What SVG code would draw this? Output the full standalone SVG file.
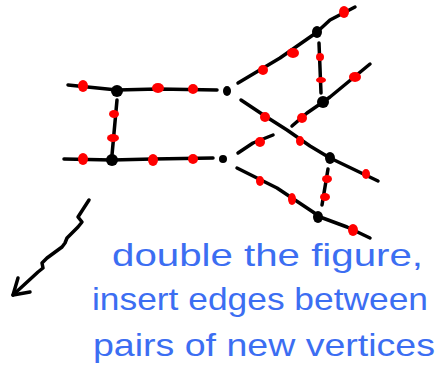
<svg xmlns="http://www.w3.org/2000/svg" width="443" height="368" viewBox="0 0 443 368">
<style>
.e{fill:none;stroke:#000;stroke-width:3.5;stroke-linecap:round;stroke-linejoin:round}
.r{fill:#f00}
.b{fill:#000}
.t{font-family:"Liberation Sans",Arial,sans-serif;font-size:32px;fill:#3c6ef2}
</style>
<rect width="443" height="368" fill="#fff"/>
<g id="connectors">
<path class="e" d="M68,85 L117,90 L158,89 L217,90"/>
<path class="e" d="M117,100 L112,155"/>
<path class="e" d="M64,159 L112,160 L153,159 L213,158"/>
<path class="e" d="M238,83 L280,58 L313,35 L317,32 L330,20 L355,7"/>
<path class="e" d="M319,43 L321,93"/>
<path class="e" d="M292,126 L307,113 L323,102 L330,97 L370,64"/>
<path class="e" d="M241,100 L265,116 L287,130 L310,146 L330,158 L378,181"/>
<path class="e" d="M238,153 L253,143 L273,135"/>
<path class="e" d="M237,168 L277,188 L313,212 L320,217 L347,227 L370,238"/>
<path class="e" d="M328,169 L322,205"/>
<path class="e" d="M89,200 L78,217 L82,222 L78,227 L67,238 L65,243 L62,247 L47,258 L42,263 L43,268 L38,272 L13,295"/>
<path class="e" d="M18,278 L13,295 L30,292"/>
</g>
<g id="v1"><ellipse class="b" cx="117" cy="91" rx="6" ry="6"/></g>
<g id="v2"><ellipse class="b" cx="112" cy="160" rx="6" ry="6"/></g>
<g id="v3"><ellipse class="b" cx="227" cy="91" rx="4" ry="5"/></g>
<g id="v4"><ellipse class="b" cx="223" cy="159" rx="4" ry="4"/></g>
<g id="v5"><ellipse class="b" cx="317" cy="32" rx="5" ry="6"/></g>
<g id="v6"><ellipse class="b" cx="323" cy="102" rx="6" ry="6"/></g>
<g id="v7"><ellipse class="b" cx="330" cy="158" rx="5" ry="6"/></g>
<g id="v8"><ellipse class="b" cx="318" cy="217" rx="5" ry="6"/></g>
<g id="n1"><ellipse class="r" cx="83" cy="86" rx="5" ry="6"/></g>
<g id="n2"><ellipse class="r" cx="158" cy="88" rx="6" ry="5"/></g>
<g id="n3"><ellipse class="r" cx="193" cy="89" rx="5" ry="5"/></g>
<g id="n4"><ellipse class="r" cx="114" cy="114" rx="5" ry="4"/></g>
<g id="n5"><ellipse class="r" cx="113" cy="138" rx="6" ry="4"/></g>
<g id="n6"><ellipse class="r" cx="83" cy="159" rx="5" ry="6"/></g>
<g id="n7"><ellipse class="r" cx="153" cy="160" rx="5" ry="6"/></g>
<g id="n8"><ellipse class="r" cx="193" cy="159" rx="5" ry="5"/></g>
<g id="n9"><ellipse class="r" cx="344" cy="12" rx="5" ry="6"/></g>
<g id="n10"><ellipse class="r" cx="293" cy="53" rx="6" ry="5"/></g>
<g id="n11"><ellipse class="r" cx="263" cy="70" rx="5" ry="5"/></g>
<g id="n12"><ellipse class="r" cx="320" cy="57" rx="4" ry="4"/></g>
<g id="n13"><ellipse class="r" cx="321" cy="80" rx="5" ry="3"/></g>
<g id="n14"><ellipse class="r" cx="355" cy="77" rx="6" ry="5"/></g>
<g id="n15"><ellipse class="r" cx="302" cy="118" rx="5" ry="5"/></g>
<g id="n16"><ellipse class="r" cx="265" cy="117" rx="5" ry="5"/></g>
<g id="n17"><ellipse class="r" cx="300" cy="141" rx="4" ry="5"/></g>
<g id="n18"><ellipse class="r" cx="366" cy="174" rx="4" ry="5"/></g>
<g id="n19"><ellipse class="r" cx="260" cy="142" rx="5" ry="5"/></g>
<g id="n20"><ellipse class="r" cx="260" cy="181" rx="4" ry="5"/></g>
<g id="n21"><ellipse class="r" cx="292" cy="199" rx="4" ry="6"/></g>
<g id="n22"><ellipse class="r" cx="353" cy="230" rx="5" ry="6"/></g>
<g id="n23"><ellipse class="r" cx="327" cy="179" rx="5" ry="4"/></g>
<g id="n24"><ellipse class="r" cx="325" cy="197" rx="5" ry="4"/></g>
<g id="caption">
<text class="t" x="112" y="266" textLength="311" lengthAdjust="spacingAndGlyphs">double the figure,</text>
<text class="t" x="92" y="310" textLength="336" lengthAdjust="spacingAndGlyphs">insert edges between</text>
<text class="t" x="93" y="356" textLength="342" lengthAdjust="spacingAndGlyphs">pairs of new vertices</text>
</g>
</svg>
